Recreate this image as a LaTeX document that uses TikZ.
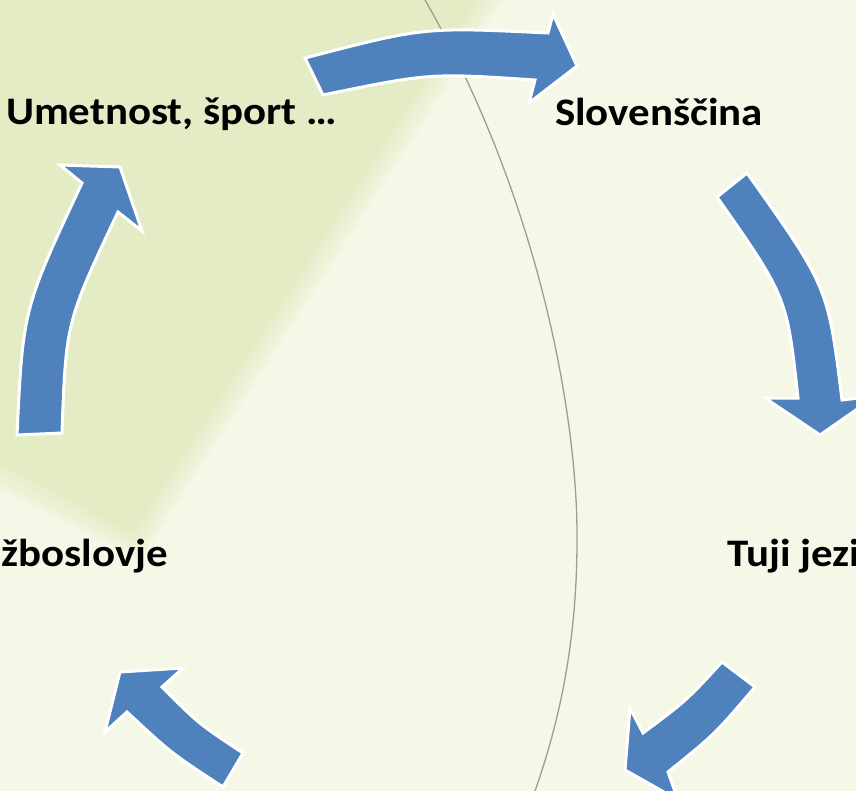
\documentclass[tikz,border=0pt]{standalone}
\usepackage{fontspec}
\setmainfont{Carlito}
\definecolor{bgpale}{HTML}{F5F8E6}
\definecolor{bggreen}{HTML}{E4ECC6}
\definecolor{arrowblue}{HTML}{4F81BD}
\definecolor{curvegray}{HTML}{A09C90}

\begin{document}
\begin{tikzpicture}[
    x=1pt, y=-1pt,
 subject/.style = {
        font=\fontsize{39}{41}\selectfont\bfseries,
        inner sep=0pt, outer sep=0pt},
cyclearrow/.style = {
        fill=arrowblue, draw=white, line width=3pt, line join=miter}
                    ]
% the page and its background
\useasboundingbox (0,0) rectangle (856,791);
\clip (0,0) rectangle (856,791);
\fill[bgpale] (0,0) rectangle (856,791);
% soft edged green wedge at the top left
\foreach \d/\o in {24/.25, 16/.3, 8/.4, 0/1}
    \fill[bggreen, opacity=\o] (0,0) -- (478+\d,0) -- (133+\d*.3,535+\d)
                               -- (0,465+\d) -- cycle;
\coordinate (ctop) at (425,0);
\coordinate (cmid) at (577,540);
\coordinate (cbot) at (535,791);
\draw[curvegray, line width=1.3pt] (ctop) .. controls (540,200) and (578,420) .. (cmid)
                                          .. controls (577,640) and (560,720) .. (cbot);
% the subjects
\node (art) [subject, anchor=base west] at (6,125)
                                        {\scalebox{1.1}[1]{Umetnost, šport …}};
\node (slo) [subject, anchor=base west] at (555,126)
                                        {\scalebox{1.1}[1]{Slovenščina}};
\node (soc) [subject, anchor=base east] at (168,566)
                                        {\scalebox{1.1}[1]{Družboslovje}};
\node (lang) [subject, anchor=base west] at (727,566)
                                        {\scalebox{1.1}[1]{Tuji jeziki}};
% the arrows round the cycle
\draw[cyclearrow] (305,58) .. controls (424,27) .. (548,33) -- (553,14)
        -- (577,66) -- (529,103) -- (535,80) .. controls (430,73) .. (323,95) -- cycle;
\draw[cyclearrow] (747,173) .. controls (828,287) .. (842,400) -- (876,396)
        -- (820,435) -- (765,398) -- (798,398) .. controls (787,297) .. (717,197) -- cycle;
\draw[cyclearrow] (755,687) .. controls (715,734) .. (668,772) -- (678,800)
        -- (625,770) -- (630,708) -- (643,733) .. controls (686,701) .. (722,662) -- cycle;
\draw[cyclearrow] (223,787) .. controls (171,753) .. (127,712) -- (105,732)
        -- (120,672) -- (183,668) -- (162,687) .. controls (199,724) .. (243,753) -- cycle;
\draw[cyclearrow] (17,435) .. controls (23,309) .. (82,183) -- (60,165)
        -- (120,167) -- (142,231) -- (118,212) .. controls (66,322) .. (62,433) -- cycle;
\end{tikzpicture}
\end{document}
